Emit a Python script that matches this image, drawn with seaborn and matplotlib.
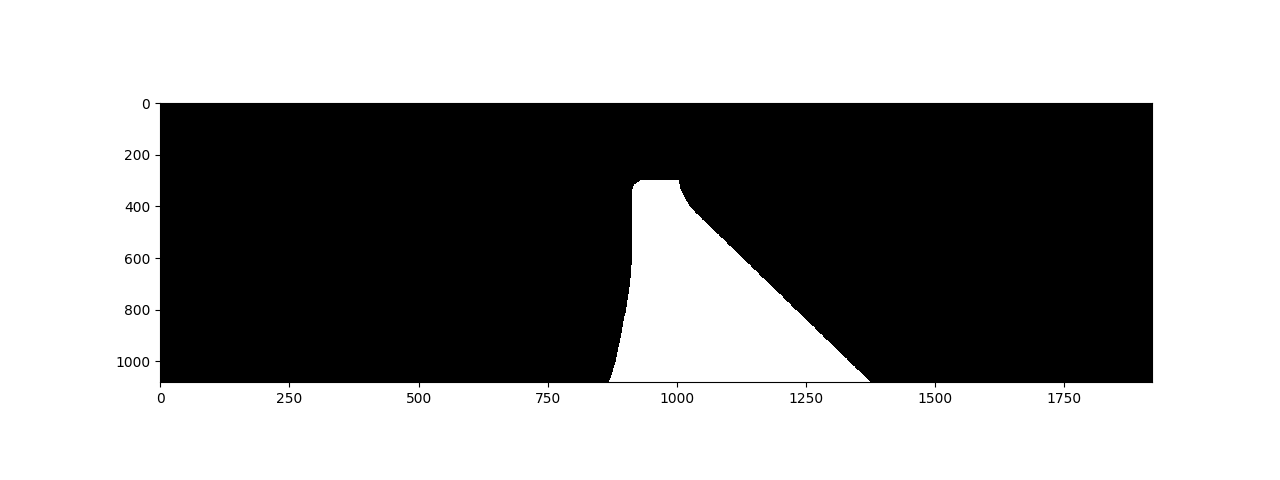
import numpy as np
import matplotlib
matplotlib.use("Agg")
import matplotlib.pyplot as plt
import seaborn as sns

sns.reset_orig()

width, height = 1920, 1080
# boundary vertices of the white region (row -> column)
left_rows = [300, 315, 340, 400, 500, 600, 700, 800, 900, 1000, 1078]
left_cols = [930, 918, 913, 913, 914, 914, 910, 902, 893, 882, 870]
right_rows = [300, 330, 360, 400, 1078]
right_cols = [1005, 1007, 1015, 1025, 1375]

mask = np.zeros((height, width))
for r in range(left_rows[0], left_rows[-1] + 1):
    l = np.interp(r, left_rows, left_cols)
    rr = np.interp(r, right_rows, right_cols)
    mask[r, int(l):int(rr)] = 1

fig = plt.figure(figsize=(12.8, 4.8), dpi=100)
ax = fig.add_subplot(111)
ax.imshow(mask, cmap="gray", aspect=0.5, interpolation="nearest")
fig.savefig("out.png")
